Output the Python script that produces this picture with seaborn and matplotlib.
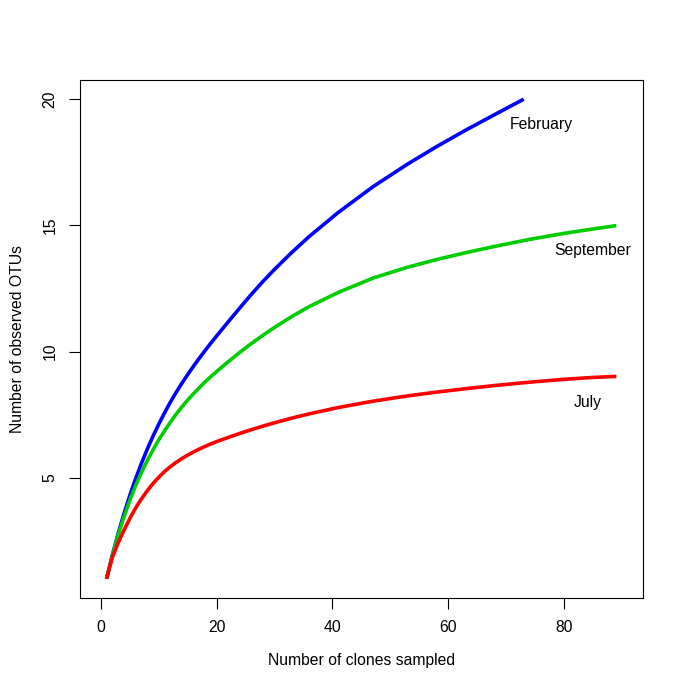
import matplotlib
matplotlib.use("Agg")
import matplotlib.pyplot as plt
import seaborn as sns
import pandas as pd

# ---- data ----
feb_x = [1, 2, 3, 4, 5, 6, 7, 8, 9, 10, 11, 12, 13, 14, 15, 16, 17, 18, 19, 20,
         22, 24, 26, 28, 30, 33, 36, 41, 47, 53, 58, 63, 68, 73]
feb_y = [1.0, 1.93, 2.79, 3.57, 4.29, 4.95, 5.56, 6.12, 6.64, 7.12, 7.57, 7.99, 8.38, 8.745,
         9.09, 9.42, 9.735, 10.04, 10.335, 10.62,
         11.18, 11.73, 12.27, 12.78, 13.26, 13.935, 14.565, 15.515, 16.535, 17.435, 18.125,
         18.775, 19.39, 20.0]

sep_x = [1, 2, 3, 4, 5, 6, 7, 8, 9, 10, 11, 12, 13, 14, 15, 16, 17, 18, 19, 20,
         22, 24, 26, 28, 30, 33, 36, 41, 47, 53, 58, 63, 68, 74, 80, 85, 89]
sep_y = [1.0, 1.92, 2.73, 3.45, 4.1, 4.68, 5.2, 5.67, 6.1, 6.5, 6.86, 7.2, 7.52, 7.81,
         8.08, 8.33, 8.57, 8.8, 9.01, 9.21,
         9.6, 9.97, 10.32, 10.65, 10.96, 11.395, 11.785, 12.345, 12.915, 13.347, 13.65,
         13.92, 14.17, 14.446, 14.686, 14.861, 14.993]

jul_x = [1, 2, 3, 4, 5, 6, 7, 8, 9, 10, 11, 12, 13, 14, 15, 16, 17, 18, 19, 20,
         22, 24, 26, 28, 30, 33, 36, 41, 47, 53, 58, 63, 68, 74, 80, 85, 89]
jul_y = [1.0, 1.85, 2.42, 2.92, 3.38, 3.8, 4.16, 4.48, 4.77, 5.02, 5.245, 5.44, 5.61,
         5.765, 5.9, 6.025, 6.14, 6.245, 6.345, 6.435,
         6.6, 6.76, 6.91, 7.05, 7.182, 7.368, 7.536, 7.786, 8.038, 8.248, 8.398, 8.533,
         8.658, 8.79, 8.904, 8.979, 9.019]

months = ["February", "September", "July"]
colors = ["#0000FF", "#00CD00", "#FF0000"]
label_x = [76, 85, 84]
label_y = [19, 14, 8]

x_ticks = [0, 20, 40, 60, 80]
y_ticks = [5, 10, 15, 20]

df = pd.concat([
    pd.DataFrame({"clones": feb_x, "otus": feb_y, "month": "February"}),
    pd.DataFrame({"clones": sep_x, "otus": sep_y, "month": "September"}),
    pd.DataFrame({"clones": jul_x, "otus": jul_y, "month": "July"}),
], ignore_index=True)

sns.set_style("white")
plt.rcParams["font.family"] = ["Liberation Sans", "DejaVu Sans"]
plt.rcParams["text.color"] = "black"
plt.rcParams["axes.labelcolor"] = "black"
plt.rcParams["xtick.color"] = "black"
plt.rcParams["ytick.color"] = "black"
FS = 11.3

fig = plt.figure(figsize=(6.85, 6.97), dpi=100)
ax = fig.add_axes([0.1166, 0.142, 0.8221, 0.7432])

sns.lineplot(data=df, x="clones", y="otus", hue="month", hue_order=months,
             palette=dict(zip(months, colors)), sort=False, estimator=None,
             linewidth=2.6, legend=False, ax=ax)
for ln in ax.lines:
    ln.set_solid_joinstyle("round")
    ln.set_solid_capstyle("butt")

for m, lx, ly in zip(months, label_x, label_y):
    ax.text(lx, ly, m, ha="center", va="center", fontsize=FS, color="black")

ax.set_xlim(-3.6, 93.6)
ax.set_ylim(0.24, 20.76)
ax.set_xticks(x_ticks)
ax.set_yticks(y_ticks)
ax.set_xticklabels([str(t) for t in x_ticks], fontsize=FS, color="black")
ax.set_yticklabels([str(t) for t in y_ticks], fontsize=FS, rotation=90, va="center",
                   color="black")
ax.tick_params(axis="both", direction="out", length=8, width=0.8, color="black",
               labelcolor="black", pad=8, bottom=True, left=True)

for s in ax.spines.values():
    s.set_visible(True)
    s.set_color("black")
    s.set_linewidth(0.8)

ax.set_xlabel("Number of clones sampled", fontsize=FS, color="black")
ax.set_ylabel("Number of observed OTUs", fontsize=FS, color="black")
ax.xaxis.set_label_coords(0.5, -0.12)
ax.yaxis.set_label_coords(-0.11, 0.5)
ax.xaxis.label.set_va("center")
ax.yaxis.label.set_va("center")

fig.savefig("out.png", dpi=100, facecolor="white")
